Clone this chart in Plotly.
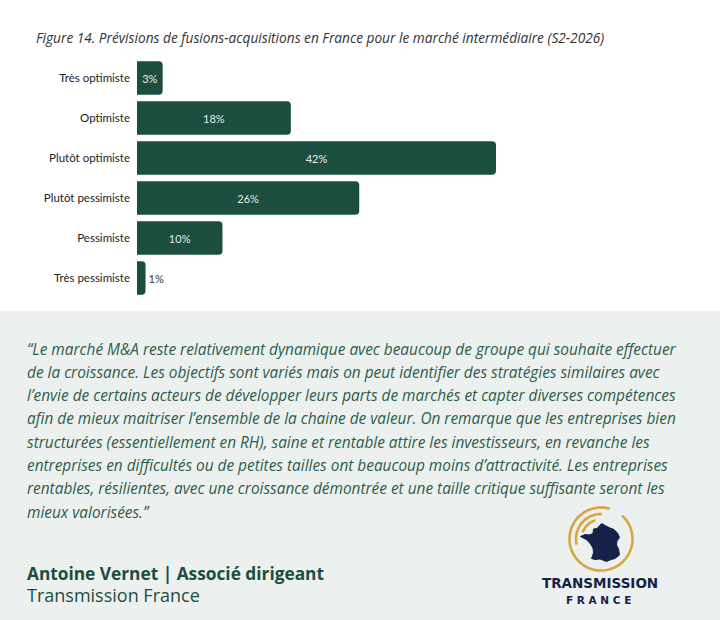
import numpy as np
import plotly.graph_objects as go

W, H = 720, 620

categories = ["Très optimiste", "Optimiste", "Plutôt optimiste",
              "Plutôt pessimiste", "Pessimiste", "Très pessimiste"]
values = [3, 18, 42, 26, 10, 1]

title = "Figure 14. Prévisions de fusions-acquisitions en France pour le marché intermédiaire (S2-2026)"

quote_lines = [
    "“Le marché M&A reste relativement dynamique avec beaucoup de groupe qui souhaite effectuer",
    "de la croissance. Les objectifs sont variés mais on peut identifier des stratégies similaires avec",
    "l’envie de certains acteurs de développer leurs parts de marchés et capter diverses compétences",
    "afin de mieux maitriser l’ensemble de la chaine de valeur. On remarque que les entreprises bien",
    "structurées (essentiellement en RH), saine et rentable attire les investisseurs, en revanche les",
    "entreprises en difficultés ou de petites tailles ont beaucoup moins d’attractivité. Les entreprises",
    "rentables, résilientes, avec une croissance démontrée et une taille critique suffisante seront les",
    "mieux valorisées.”",
]
author = "Antoine Vernet | Associé dirigeant"
company = "Transmission France"

GREEN = "#1b4e3f"
QUOTE = "#2e5d49"
NAVY = "#14224a"
GOLD = "#d6a73c"
FONT = "Lato"
WIDE = "Open Sans"


def px_x(x):
    return x / W


def px_y(y):
    return 1 - y / H


def pts_path(pts, close=False):
    s = "M " + " L ".join(f"{px_x(x):.5f},{px_y(y):.5f}" for x, y in pts)
    return s + (" Z" if close else "")


def arc(cx, cy, r, a0, a1, n=60):
    a = np.radians(np.linspace(a0, a1, n))
    return [(cx + r * np.cos(t), cy - r * np.sin(t)) for t in a]


fig = go.Figure(go.Bar(
    x=values, y=categories, orientation="h",
    marker=dict(color=GREEN, line=dict(width=0)),
    texttemplate="%{x}%", textposition="auto",
    insidetextanchor="middle",
    insidetextfont=dict(color="#e4ebe7", size=11, family=FONT),
    outsidetextfont=dict(color="#333333", size=11, family=FONT),
    cliponaxis=False, hoverinfo="skip",
))

# axis: bar start at 137px, 42% ends at ~496px
x0, x1 = 137, 700
fig.update_xaxes(domain=[px_x(x0), px_x(x1)], range=[0, 42 * (x1 - x0) / (496 - x0)],
                 visible=False, fixedrange=True)
fig.update_yaxes(domain=[px_y(298), px_y(58)], autorange="reversed",
                 showgrid=False, zeroline=False, showline=False, ticks="",
                 ticklabelstandoff=6,
                 tickfont=dict(size=11.5, color="#222222", family=FONT))

shapes = [
    dict(type="rect", xref="paper", yref="paper", x0=0, x1=1, y0=0, y1=px_y(311),
         fillcolor="#ecf0ef", line=dict(width=0), layer="below"),
]

# logo: rings and map
cx, cy = 601, 539
for pts in (arc(cx, cy, 31.5, 74, 408, 120), arc(cx, cy, 25, 88, 193), arc(cx, cy, 19.5, 107, 160)):
    shapes.append(dict(type="path", xref="paper", yref="paper", path=pts_path(pts),
                       line=dict(color=GOLD, width=2.6)))
france = [(601.7, 523.5), (606, 526), (610, 528), (614, 529.5), (617.5, 533), (619.5, 537.5),
          (617, 541), (616.5, 545), (618.5, 549), (619.5, 555), (615, 558.5), (610, 560),
          (606.5, 561.5), (600, 559), (595, 559.5), (591.5, 558.5), (593.5, 553), (593, 548),
          (590.5, 544), (587, 540), (580.5, 536.5), (585, 534.5), (589, 535), (593, 533.5),
          (593.5, 529), (597, 528.5)]
shapes.append(dict(type="path", xref="paper", yref="paper", path=pts_path(france, True),
                   fillcolor=NAVY, line=dict(color=NAVY, width=1)))

annotations = [
    dict(text=title, x=px_x(33.5), y=px_y(37), xanchor="left", yanchor="middle",
         font=dict(size=13.7, color="#333333", family=WIDE, style="italic")),
]
for i, line in enumerate(quote_lines):
    annotations.append(dict(text=line, x=px_x(24.5), y=px_y(349 + 23.3 * i),
                            xanchor="left", yanchor="middle",
                            font=dict(size=15.4, color=QUOTE, family=WIDE, style="italic")))
annotations += [
    dict(text="<b>" + author + "</b>", x=px_x(24.5), y=px_y(573), xanchor="left", yanchor="middle",
         font=dict(size=17.3, color=GREEN, family=WIDE)),
    dict(text=company, x=px_x(24.5), y=px_y(595), xanchor="left", yanchor="middle",
         font=dict(size=18, color=GREEN, family=WIDE)),
    dict(text="<b>TRANSMISSION</b>", x=px_x(600), y=px_y(583), xanchor="center", yanchor="middle",
         font=dict(size=13.5, color=NAVY, family="DejaVu Sans")),
    dict(text="<b>F R A N C E</b>", x=px_x(598), y=px_y(600), xanchor="center", yanchor="middle",
         font=dict(size=10.5, color=NAVY, family="DejaVu Sans")),
]
for a in annotations:
    a.update(xref="paper", yref="paper", showarrow=False)

fig.update_layout(
    width=W, height=H, margin=dict(l=0, r=0, t=0, b=0),
    paper_bgcolor="white", plot_bgcolor="rgba(0,0,0,0)",
    bargap=0.16, barcornerradius=4, showlegend=False,
    font=dict(family=FONT),
    shapes=shapes, annotations=annotations,
)

# drop the page's default body margin so the figure fills the window
fig.write_html("out.html", config={"displayModeBar": False},
               post_script="document.body.style.margin='0';")
